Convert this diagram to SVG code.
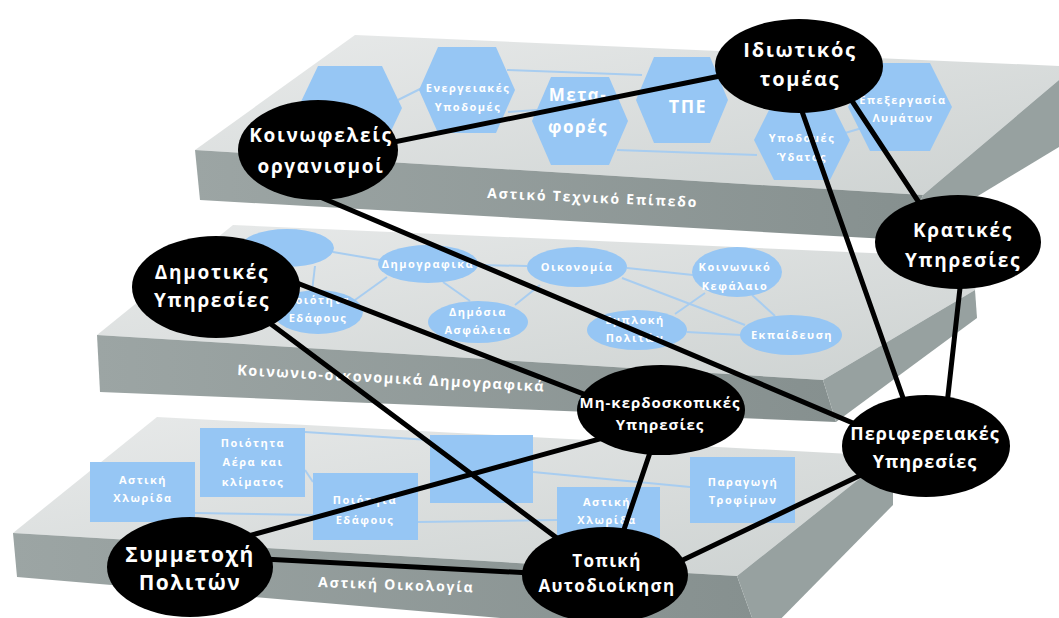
<svg xmlns="http://www.w3.org/2000/svg" width="1059" height="618" viewBox="0 0 1059 618">
<defs>
<linearGradient id="gTop" x1="0" y1="0" x2="1" y2="1">
<stop offset="0" stop-color="#e8eaea"/><stop offset="1" stop-color="#cdd2d1"/>
</linearGradient>
<linearGradient id="gFront" x1="0" y1="0" x2="1" y2="0">
<stop offset="0" stop-color="#9ca5a4"/><stop offset="1" stop-color="#86908f"/>
</linearGradient>
<style>
.top{fill:url(#gTop)}
.front{fill:url(#gFront)}
.side{fill:#97a1a0}
.blue{fill:#96c6f4}
.thin{stroke:#a8cdf0;stroke-width:2;fill:none}
.conn{stroke:#000;stroke-width:5;stroke-linecap:round;fill:none}
.node{fill:#000}
.nt{fill:#fff;font-family:"Open Sans","Noto Sans","DejaVu Sans",sans-serif;font-weight:bold;text-anchor:middle}
.st{fill:#fff;font-family:"Open Sans","Noto Sans","DejaVu Sans",sans-serif;font-weight:bold;font-size:11px;letter-spacing:1.5px;text-anchor:middle}
.lab{fill:#fff;font-family:"Open Sans","Noto Sans","DejaVu Sans",sans-serif;font-weight:bold;font-size:14px;letter-spacing:1.8px}
</style>
</defs>
<rect width="1059" height="618" fill="#fff"/>

<g id="slab-ecology">
<polygon class="top" points="157,417 888,456 737,576 13,533"/>
<polygon class="front" points="13,533 737,576 760,640 17,577"/>
<polygon class="side" points="737,576 888,456 893,462 893,505 760,640"/>
<line class="thin" x1="195" y1="513" x2="313" y2="515"/>
<line class="thin" x1="305" y1="432" x2="430" y2="440"/>
<line class="thin" x1="305" y1="470" x2="313" y2="482"/>
<line class="thin" x1="533" y1="472" x2="690" y2="487"/>
<line class="thin" x1="418" y1="522" x2="557" y2="520"/>
<polygon class="blue" points="90,462 195,462 195,522 90,522"/>
<polygon class="blue" points="200,428 305,428 305,497 200,497"/>
<polygon class="blue" points="313,473 418,473 418,540 313,540"/>
<polygon class="blue" points="430,435 533,435 533,503 430,503"/>
<polygon class="blue" points="557,487 660,487 660,545 557,545"/>
<polygon class="blue" points="690,457 795,457 795,523 690,523"/>
<text class="st" x="143" y="484">Αστική</text>
<text class="st" x="143" y="502">Χλωρίδα</text>
<text class="st" x="253" y="447">Ποιότητα</text>
<text class="st" x="253" y="466">Αέρα και</text>
<text class="st" x="253" y="486">κλίματος</text>
<text class="st" x="365" y="504">Ποιότητα</text>
<text class="st" x="365" y="524">Εδάφους</text>
<text class="st" x="607" y="506">Αστική</text>
<text class="st" x="607" y="524">Χλωρίδα</text>
<text class="st" x="743" y="486">Παραγωγή</text>
<text class="st" x="743" y="504">Τροφίμων</text>
<text class="lab" x="318" y="587" transform="rotate(2,318,587)">Αστική Οικολογία</text>
</g>

<g id="slab-socio">
<polygon class="top" points="233,225 985,258 975,290 823,380 97,335"/>
<polygon class="front" points="97,335 823,380 836,422 100,392"/>
<polygon class="side" points="823,380 975,290 977,318 836,422"/>
<line class="thin" x1="333" y1="252" x2="380" y2="260"/>
<line class="thin" x1="315" y1="266" x2="312" y2="291"/>
<line class="thin" x1="387" y1="277" x2="355" y2="300"/>
<line class="thin" x1="443" y1="282" x2="470" y2="301"/>
<line class="thin" x1="478" y1="265" x2="527" y2="266"/>
<line class="thin" x1="515" y1="305" x2="540" y2="285"/>
<line class="thin" x1="627" y1="268" x2="693" y2="275"/>
<line class="thin" x1="622" y1="278" x2="745" y2="325"/>
<line class="thin" x1="705" y1="293" x2="675" y2="314"/>
<line class="thin" x1="752" y1="295" x2="775" y2="316"/>
<line class="thin" x1="687" y1="332" x2="741" y2="335"/>
<ellipse class="blue" cx="287" cy="248" rx="47" ry="19"/>
<ellipse class="blue" cx="318" cy="312" rx="45" ry="22"/>
<ellipse class="blue" cx="428" cy="264" rx="50" ry="19"/>
<ellipse class="blue" cx="478" cy="322" rx="50" ry="21"/>
<ellipse class="blue" cx="577" cy="267" rx="50" ry="20"/>
<ellipse class="blue" cx="637" cy="330" rx="50" ry="20"/>
<ellipse class="blue" cx="737" cy="272" rx="45" ry="25"/>
<ellipse class="blue" cx="791" cy="335" rx="51" ry="20"/>
<text class="st" x="428" y="268">Δημογραφικά</text>
<text class="st" x="577" y="271">Οικονομία</text>
<text class="st" x="735" y="271">Κοινωνικό</text>
<text class="st" x="735" y="290">Κεφάλαιο</text>
<text class="st" x="318" y="304">Ποιότητα</text>
<text class="st" x="318" y="322">Εδάφους</text>
<text class="st" x="478" y="316">Δημόσια</text>
<text class="st" x="478" y="334">Ασφάλεια</text>
<text class="st" x="635" y="324">Εμπλοκή</text>
<text class="st" x="635" y="342">Πολιτών</text>
<text class="st" x="792" y="339">Εκπαίδευση</text>
<text class="lab" x="237" y="375" style="font-size:14.5px;letter-spacing:1.5px" transform="rotate(3.1,237,375)">Κοινωνιο-οικονομικά Δημογραφικά</text>
</g>

<g id="slab-tech">
<polygon class="top" points="355,35 1059,66 1059,80 923,195 195,150"/>
<polygon class="front" points="195,150 923,195 905,240 200,200"/>
<polygon class="side" points="923,195 1059,80 1059,147 905,240"/>
<line class="thin" x1="398" y1="100" x2="424" y2="87"/>
<line class="thin" x1="507" y1="70" x2="642" y2="75"/>
<line class="thin" x1="508" y1="112" x2="537" y2="110"/>
<line class="thin" x1="617" y1="150" x2="757" y2="155"/>
<line class="thin" x1="845" y1="133" x2="862" y2="128"/>
<polygon class="blue" points="318,66 382,66 402,108 382,150 318,150 298,108"/>
<polygon class="blue" points="438,47 496,47 515,90 496,133 438,133 419,90"/>
<polygon class="blue" points="551,77 609,77 628,121 609,165 551,165 532,121"/>
<polygon class="blue" points="654,57 710,57 728,100 710,143 654,143 636,100"/>
<polygon class="blue" points="774,100 830,100 850,140 830,180 774,180 754,140"/>
<polygon class="blue" points="870,63 930,63 952,107 930,151 870,151 848,107"/>
<text class="st" x="468" y="92">Ενεργειακές</text>
<text class="st" x="468" y="111">Υποδομές</text>
<text class="st" x="578" y="101" style="font-size:17px">Μετα-</text>
<text class="st" x="578" y="133" style="font-size:17px">φορές</text>
<text class="st" x="688" y="113" style="font-size:18px">ΤΠΕ</text>
<text class="st" x="802" y="142">Υποδομές</text>
<text class="st" x="802" y="161">Ύδατος</text>
<text class="st" x="903" y="104">Επεξεργασία</text>
<text class="st" x="903" y="122">Λυμάτων</text>
<text class="lab" x="487" y="198" transform="rotate(2.5,487,198)">Αστικό Τεχνικό Επίπεδο</text>
</g>

<g id="connectors">
<line class="conn" x1="320" y1="157" x2="799" y2="60"/>
<line class="conn" x1="320" y1="197" x2="926" y2="454"/>
<line class="conn" x1="829" y1="66" x2="945" y2="242"/>
<line class="conn" x1="786" y1="66" x2="920" y2="446"/>
<line class="conn" x1="962" y1="270" x2="943" y2="440"/>
<line class="conn" x1="240" y1="261" x2="661" y2="424"/>
<line class="conn" x1="216" y1="283" x2="605" y2="574"/>
<line class="conn" x1="190" y1="552" x2="661" y2="422"/>
<line class="conn" x1="661" y1="420" x2="612" y2="565"/>
<line class="conn" x1="620" y1="590" x2="926" y2="444"/>
<line class="conn" x1="190" y1="555" x2="605" y2="577"/>
</g>

<g id="node-idiotikos"><ellipse class="node" cx="799" cy="66" rx="84" ry="47"/>
<text class="nt" x="800" y="57" font-size="20" letter-spacing="1.7">Ιδιωτικός</text>
<text class="nt" x="800" y="86" font-size="20" letter-spacing="1.7">τομέας</text></g>

<g id="node-koinofeleis"><ellipse class="node" cx="318" cy="150" rx="80" ry="50"/>
<text class="nt" x="321" y="142" font-size="19" letter-spacing="1.7">Κοινωφελείς</text>
<text class="nt" x="321" y="173" font-size="19" letter-spacing="1.7">οργανισμοί</text></g>

<g id="node-kratikes"><ellipse class="node" cx="958" cy="242" rx="83" ry="47"/>
<text class="nt" x="963" y="237" font-size="19" letter-spacing="1.7">Κρατικές</text>
<text class="nt" x="963" y="267" font-size="19" letter-spacing="1.7">Υπηρεσίες</text></g>

<g id="node-dimotikes"><ellipse class="node" cx="216" cy="287" rx="84" ry="51"/>
<text class="nt" x="212" y="279" font-size="19" letter-spacing="1.7">Δημοτικές</text>
<text class="nt" x="212" y="307" font-size="19" letter-spacing="1.7">Υπηρεσίες</text></g>

<g id="node-mkerdoskopikes"><ellipse class="node" cx="661" cy="410" rx="84" ry="45"/>
<text class="nt" x="660" y="408" font-size="15" letter-spacing="1">Μη-κερδοσκοπικές</text>
<text class="nt" x="660" y="430" font-size="15" letter-spacing="1">Υπηρεσίες</text></g>

<g id="node-perifereiakes"><ellipse class="node" cx="926" cy="446" rx="84" ry="51"/>
<text class="nt" x="925" y="440" font-size="18" letter-spacing="1">Περιφερειακές</text>
<text class="nt" x="925" y="468" font-size="18" letter-spacing="1">Υπηρεσίες</text></g>

<g id="node-symmetoxi"><ellipse class="node" cx="190" cy="567" rx="83" ry="50"/>
<text class="nt" x="190" y="562" font-size="21" letter-spacing="1.5">Συμμετοχή</text>
<text class="nt" x="190" y="590" font-size="21" letter-spacing="1.5">Πολιτών</text></g>

<g id="node-topiki"><ellipse class="node" cx="605" cy="575" rx="83" ry="48"/>
<text class="nt" x="607" y="567" font-size="17" letter-spacing="1.3">Τοπική</text>
<text class="nt" x="607" y="592" font-size="17" letter-spacing="1.3">Αυτοδιοίκηση</text></g>
</svg>
